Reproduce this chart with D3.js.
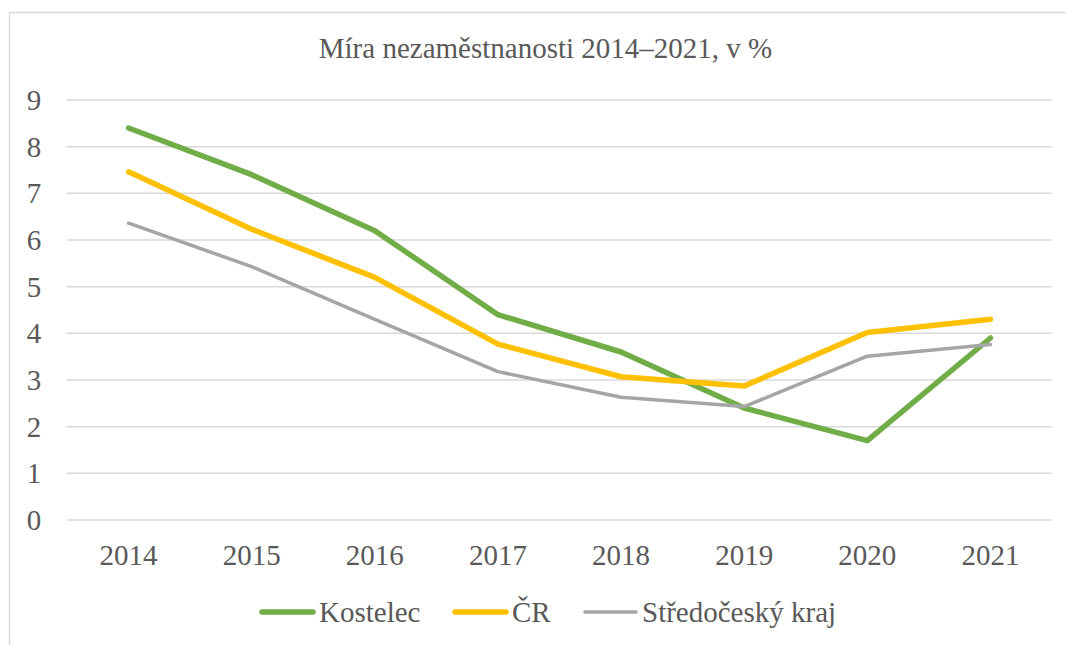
<!DOCTYPE html>
<html>
<head>
<meta charset="utf-8">
<script src="https://cdn.jsdelivr.net/npm/d3@7"></script>
<style>
  body { margin: 0; background: #fff; }
</style>
</head>
<body>
<script>
(() => {
    var years = [2014, 2015, 2016, 2017, 2018, 2019, 2020, 2021];
    var kostelec = [8.4, 7.4, 6.2, 4.4, 3.6, 2.4, 1.7, 3.9];
    var cr = [7.46, 6.23, 5.2, 3.77, 3.07, 2.87, 4.02, 4.3];
    var stredocesky = [6.36, 5.43, 4.3, 3.18, 2.63, 2.43, 3.51, 3.76];
    var yTicks = [0, 1, 2, 3, 4, 5, 6, 7, 8, 9];

    var series = [
        { name: "Kostelec", values: kostelec, color: "#70AD47", width: 5.5 },
        { name: "ČR", values: cr, color: "#FFC000", width: 5.5 },
        { name: "Středočeský kraj", values: stredocesky, color: "#A5A5A5", width: 3.5 }
    ];

    var w = 1066,
        h = 645;

    var margin = { top: 100, bottom: 125, left: 67, right: 14 };

    var svg = d3.select("body").append("svg")
        .attr("width", w).attr("height", h)
        .attr("font-family", "'Liberation Serif', 'Times New Roman', Times, serif")
        .attr("fill", "#595959");

    // chart frame (only top and left visible)
    svg.append("rect")
        .attr("x", 9.5).attr("y", 12.5)
        .attr("width", w + 20).attr("height", h + 20)
        .attr("fill", "none").attr("stroke", "#D9D9D9").attr("stroke-width", 1.5);

    svg.append("text")
        .attr("x", 545.5).attr("y", 58)
        .attr("text-anchor", "middle")
        .attr("font-size", 29)
        .text("Míra nezaměstnanosti 2014–2021, v %");

    var pw = w - margin.left - margin.right,
        ph = h - margin.top - margin.bottom;

    var graph = svg.append("g")
        .attr("transform", "translate(" + [margin.left, margin.top] + ")");

    var x = d3.scaleBand().domain(years).range([0, pw]).padding(0);
    var y = d3.scaleLinear().domain([0, 9]).range([ph, 0]);

    // gridlines
    graph.selectAll(".grid").data(yTicks).enter()
        .append("line").attr("class", "grid")
        .attr("x1", 0).attr("x2", pw)
        .attr("y1", (d) => y(d)).attr("y2", (d) => y(d))
        .attr("stroke", "#D9D9D9").attr("stroke-width", 1.5);

    // y labels
    graph.selectAll(".ylab").data(yTicks).enter()
        .append("text").attr("class", "ylab")
        .attr("x", -33).attr("y", (d) => y(d))
        .attr("dy", "0.35em")
        .attr("text-anchor", "middle")
        .attr("font-size", 29)
        .text((d) => d);

    // x labels
    graph.selectAll(".xlab").data(years).enter()
        .append("text").attr("class", "xlab")
        .attr("x", (d) => x(d) + x.bandwidth() / 2)
        .attr("y", ph + 45)
        .attr("text-anchor", "middle")
        .attr("font-size", 29)
        .text((d) => d);

    var line = d3.line()
        .x((d, i) => x(years[i]) + x.bandwidth() / 2)
        .y((d) => y(d));

    graph.selectAll(".series").data(series).enter()
        .append("path").attr("class", "series")
        .attr("d", (d) => line(d.values))
        .attr("fill", "none")
        .attr("stroke", (d) => d.color)
        .attr("stroke-width", (d) => d.width)
        .attr("stroke-linejoin", "round")
        .attr("stroke-linecap", "round");

    // legend
    var legendX = [260, 453, 583];
    var leg = svg.selectAll(".leg").data(series).enter()
        .append("g").attr("class", "leg")
        .attr("transform", (d, i) => "translate(" + [legendX[i], 612] + ")");

    leg.append("line")
        .attr("x1", 2).attr("x2", 53)
        .attr("y1", 0).attr("y2", 0)
        .attr("stroke", (d) => d.color)
        .attr("stroke-width", (d) => d.width)
        .attr("stroke-linecap", "round");

    leg.append("text")
        .attr("x", 59).attr("y", 0)
        .attr("dy", "0.35em")
        .attr("font-size", 29)
        .text((d) => d.name);
})()
</script>
</body>
</html>
